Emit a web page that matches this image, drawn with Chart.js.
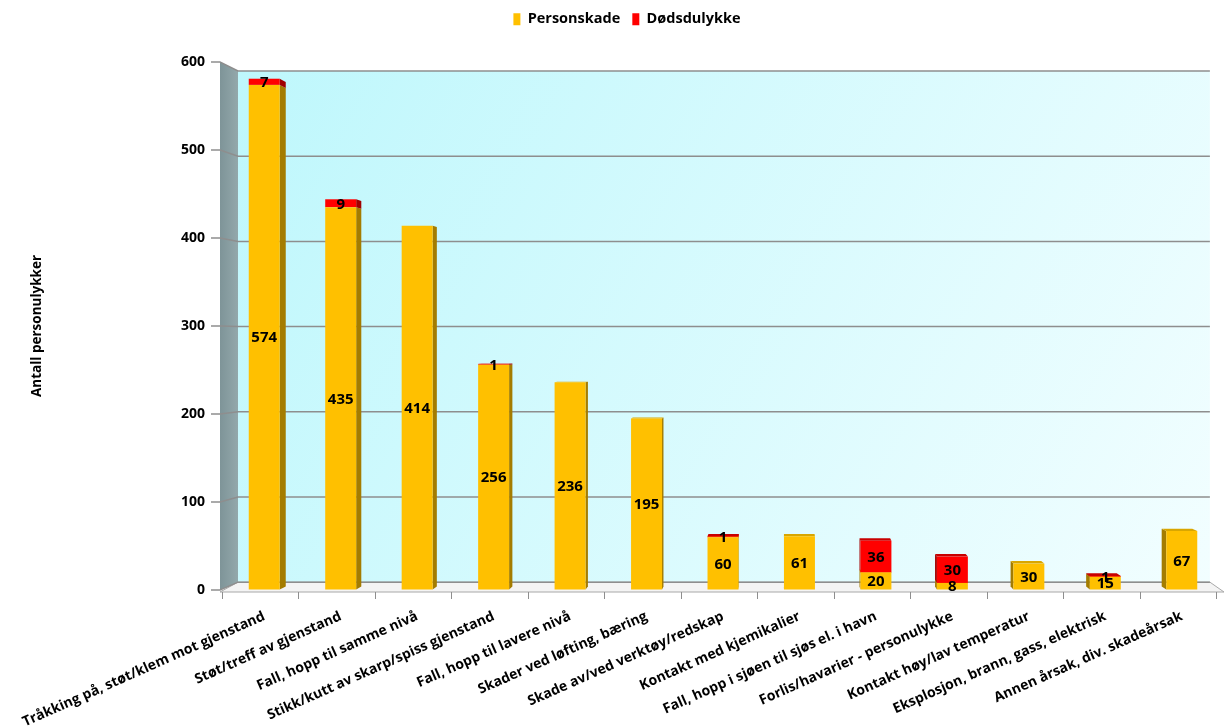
<!DOCTYPE html>
<html><head><meta charset="utf-8">
<script src="https://cdn.jsdelivr.net/npm/chart.js@4"></script>
<style>html,body{margin:0;padding:0;background:#fff}canvas{display:block}</style>
</head><body>
<canvas id="c" width="1225" height="728"></canvas>
<script>
const categories = [
  "Tråkking på, støt/klem mot gjenstand",
  "Støt/treff av gjenstand",
  "Fall, hopp til samme nivå",
  "Stikk/kutt av skarp/spiss gjenstand",
  "Fall, hopp til lavere nivå",
  "Skader ved løfting, bæring",
  "Skade av/ved verktøy/redskap",
  "Kontakt med kjemikalier",
  "Fall, hopp i sjøen til sjøs el. i havn",
  "Forlis/havarier - personulykke",
  "Kontakt høy/lav temperatur",
  "Eksplosjon, brann, gass, elektrisk",
  "Annen årsak, div. skadeårsak"
];
const personskade = [574, 435, 414, 256, 236, 195, 60, 61, 20, 8, 30, 15, 67];
const dodsulykke  = [7, 9, 0, 1, 0, 0, 1, 0, 36, 30, 0, 1, 0];
const yTicks = [0, 100, 200, 300, 400, 500, 600];
const seriesNames = ["Personskade", "Dødsdulykke"];
const yTitle = "Antall personulykker";

const FONT = "'Open Sans', 'DejaVu Sans', sans-serif";
const colors = {
  gold: '#FFC000', goldSide: '#A47C00', goldTop: '#D9A600',
  red: '#FF0000', redSide: '#A00000', redTop: '#C80000'
};

function persp(x, y, k, vp) { return [vp[0] + (x - vp[0]) * k, vp[1] + (y - vp[1]) * k]; }
function vanish(ca) { return [ca.left + (ca.right - ca.left) * 0.56, ca.top + (ca.bottom - ca.top) * 0.534]; }

const deco = {
  id: 'deco',
  beforeLayout(chart) {
    const lg = chart.legend;
    if (lg && !lg._patched) {
      const f = lg.fit;
      lg.fit = function () { f.call(this); this.height = 62; };
      const d = lg.draw;
      lg.draw = function () { this.ctx.save(); this.ctx.translate(17, 0); d.apply(this, arguments); this.ctx.restore(); };
      lg._patched = true;
    }
  },
  beforeDraw(chart) {
    const ctx = chart.ctx, ca = chart.chartArea, ys = chart.scales.y, xs = chart.scales.x;
    const vp = vanish(ca), kW = 0.968;
    const x0 = ca.left - 6, xR = ca.right + 4;
    const yTop = ys.getPixelForValue(yTicks[yTicks.length - 1]), yBot = ys.getPixelForValue(0);
    const bTL = persp(x0, yTop, kW, vp), bTR = persp(xR, yTop, kW, vp);
    const bBR = persp(xR, yBot, kW, vp), bBL = persp(x0, yBot, kW, vp);
    ctx.save();
    const g = ctx.createLinearGradient(bTL[0], bTL[1], bBR[0], bBR[1]);
    g.addColorStop(0, '#BEF7FC'); g.addColorStop(1, '#F2FEFF');
    ctx.fillStyle = g;
    ctx.beginPath(); ctx.moveTo(...bTL); ctx.lineTo(...bTR); ctx.lineTo(...bBR); ctx.lineTo(...bBL); ctx.closePath(); ctx.fill();
    const gw = ctx.createLinearGradient(x0, 0, bTL[0], 0);
    gw.addColorStop(0, '#7E9498'); gw.addColorStop(1, '#93A8AB');
    ctx.fillStyle = gw;
    ctx.beginPath(); ctx.moveTo(x0, yTop); ctx.lineTo(...bTL); ctx.lineTo(...bBL); ctx.lineTo(x0, yBot); ctx.closePath(); ctx.fill();
    ctx.fillStyle = '#F4F4F4'; ctx.strokeStyle = '#A8A8A8'; ctx.lineWidth = 1;
    ctx.beginPath(); ctx.moveTo(x0, yBot + 2); ctx.lineTo(xR, yBot + 2); ctx.lineTo(...bBR); ctx.lineTo(...bBL); ctx.closePath(); ctx.fill(); ctx.stroke();
    ctx.strokeStyle = '#8E8E8E'; ctx.lineWidth = 1.5;
    yTicks.forEach(v => {
      const yf = ys.getPixelForValue(v);
      const bl = persp(x0, yf, kW, vp), br = persp(xR, yf, kW, vp);
      ctx.beginPath(); ctx.moveTo(x0 - 9, yf); ctx.lineTo(x0, yf); ctx.lineTo(...bl); ctx.lineTo(...br); ctx.stroke();
    });
    ctx.strokeStyle = '#8E8E8E'; ctx.lineWidth = 1;
    const step = xs.getPixelForValue(1) - xs.getPixelForValue(0);
    for (let i = 0; i <= categories.length; i++) {
      const x = Math.round(xs.getPixelForValue(0) - step / 2 + i * step) - 3.5;
      ctx.beginPath(); ctx.moveTo(x, yBot + 2); ctx.lineTo(x, yBot + 9); ctx.stroke();
    }
    ctx.restore();
  },
  beforeDatasetsDraw(chart) {
    const ctx = chart.ctx, ca = chart.chartArea, vp = vanish(ca), kB = 0.988;
    ctx.save();
    chart.data.datasets.forEach((ds, di) => {
      const meta = chart.getDatasetMeta(di);
      meta.data.forEach((el, i) => {
        const v = ds.data[i]; if (!v) return;
        const p = el.getProps(['x', 'y', 'base', 'width'], true);
        const x1 = p.x - p.width / 2, x2 = p.x + p.width / 2;
        const y1 = Math.min(p.y, p.base), y2 = Math.max(p.y, p.base);
        const b11 = persp(x1, y1, kB, vp), b21 = persp(x2, y1, kB, vp);
        const b12 = persp(x1, y2, kB, vp), b22 = persp(x2, y2, kB, vp);
        ctx.fillStyle = ds.sideColor;
        if (x2 < vp[0]) {
          ctx.beginPath(); ctx.moveTo(x2, y1); ctx.lineTo(...b21); ctx.lineTo(...b22); ctx.lineTo(x2, y2); ctx.closePath(); ctx.fill();
        } else if (x1 > vp[0]) {
          ctx.beginPath(); ctx.moveTo(x1, y1); ctx.lineTo(...b11); ctx.lineTo(...b12); ctx.lineTo(x1, y2); ctx.closePath(); ctx.fill();
        }
        if (y1 > vp[1]) {
          ctx.fillStyle = ds.topColor;
          ctx.beginPath(); ctx.moveTo(x1, y1); ctx.lineTo(x2, y1); ctx.lineTo(...b21); ctx.lineTo(...b11); ctx.closePath(); ctx.fill();
        }
      });
    });
    ctx.restore();
  },
  afterDatasetsDraw(chart) {
    const ctx = chart.ctx;
    ctx.save();
    ctx.font = "bold 15px " + FONT; ctx.fillStyle = '#000';
    ctx.textAlign = 'center'; ctx.textBaseline = 'middle';
    chart.data.datasets.forEach((ds, di) => {
      const meta = chart.getDatasetMeta(di);
      meta.data.forEach((el, i) => {
        const v = ds.data[i]; if (!v) return;
        const p = el.getProps(['x', 'y', 'base'], true);
        ctx.fillText(String(v), p.x, (p.y + p.base) / 2 + 1);
      });
    });
    ctx.restore();
  }
};

new Chart(document.getElementById('c'), {
  type: 'bar',
  data: {
    labels: categories,
    datasets: [
      { label: seriesNames[0], data: personskade, backgroundColor: colors.gold, sideColor: colors.goldSide, topColor: colors.goldTop, borderWidth: 0 },
      { label: seriesNames[1], data: dodsulykke, backgroundColor: colors.red, sideColor: colors.redSide, topColor: colors.redTop, borderWidth: 0 }
    ]
  },
  options: {
    responsive: false, animation: false, devicePixelRatio: 1,
    layout: { padding: { left: 0, right: 5, top: 0, bottom: 0 } },
    datasets: { bar: { barPercentage: 0.405, categoryPercentage: 1.0 } },
    plugins: {
      legend: {
        position: 'top',
        labels: { boxWidth: 7, boxHeight: 12, padding: 12, color: '#000', font: { family: FONT, size: 14.5, weight: 'bold' } }
      },
      tooltip: { enabled: false }
    },
    scales: {
      x: {
        stacked: true,
        grid: { display: true, color: 'rgba(0,0,0,0)', drawTicks: true, tickLength: 6 },
        border: { display: false },
        ticks: { autoSkip: false, maxRotation: 24, minRotation: 24, padding: 12, color: '#000', font: { family: FONT, size: 14, weight: 'bold' } },
        afterFit(s) { s.height = 138; }
      },
      y: {
        stacked: true, min: 0, max: 600,
        afterBuildTicks(s) { s.ticks = yTicks.map(v => ({ value: v })); },
        grid: { display: true, color: 'rgba(0,0,0,0)', drawTicks: true, tickLength: 12 },
        border: { display: false },
        ticks: { padding: 9, color: '#000', font: { family: FONT, size: 14, weight: 'bold' } },
        title: { display: true, text: yTitle, color: '#000', padding: { top: 29, bottom: 0 }, font: { family: FONT, size: 13.5, weight: 'bold' } },
        afterFit(s) { s.width = 226; }
      }
    }
  },
  plugins: [deco]
});
</script>
</body></html>
